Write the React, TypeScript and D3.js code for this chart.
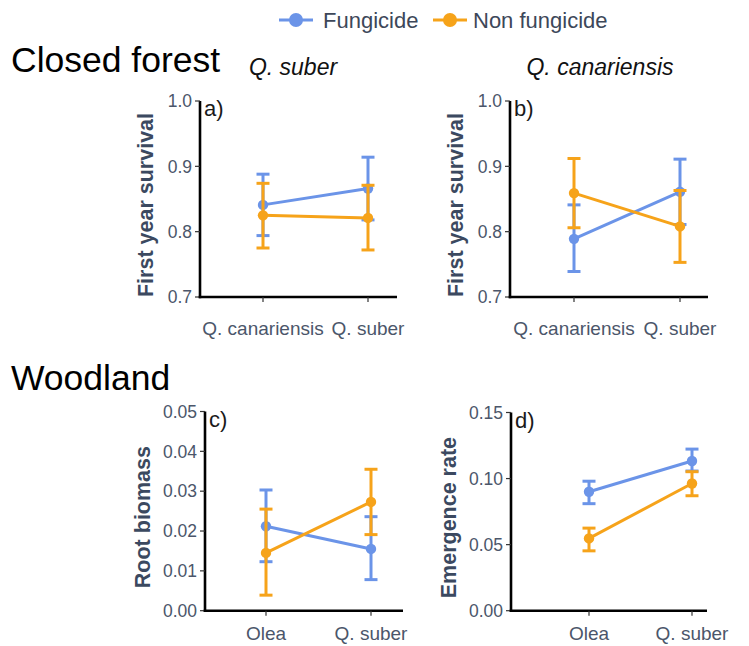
import React from "react";
import * as d3 from "d3";

// Treatment series
const seriesNames = ["Fungicide", "Non fungicide"];
const seriesColors = ["#6b94e8", "#f6a31a"];

// Categories on the x axis
const closedForestCats = ["Q. canariensis", "Q. suber"];
const woodlandCats = ["Olea", "Q. suber"];

// a) Q. suber, first year survival
const aFungMean = [0.841, 0.866];
const aFungLo = [0.794, 0.818];
const aFungHi = [0.888, 0.914];
const aNonMean = [0.825, 0.821];
const aNonLo = [0.775, 0.772];
const aNonHi = [0.874, 0.871];

// b) Q. canariensis, first year survival
const bFungMean = [0.789, 0.861];
const bFungLo = [0.739, 0.811];
const bFungHi = [0.841, 0.911];
const bNonMean = [0.859, 0.808];
const bNonLo = [0.806, 0.753];
const bNonHi = [0.912, 0.863];

// c) root biomass
const cFungMean = [0.0212, 0.0155];
const cFungLo = [0.0123, 0.0078];
const cFungHi = [0.0303, 0.0236];
const cNonMean = [0.0145, 0.0273];
const cNonLo = [0.0039, 0.0191];
const cNonHi = [0.0255, 0.0355];

// d) emergence rate
const dFungMean = [0.09, 0.1133];
const dFungLo = [0.081, 0.1057];
const dFungHi = [0.098, 0.1223];
const dNonMean = [0.0547, 0.0963];
const dNonLo = [0.0453, 0.087];
const dNonHi = [0.0625, 0.1052];

// Tick labels
const survivalTicks = ["0.7", "0.8", "0.9", "1.0"];
const biomassTicks = ["0.00", "0.01", "0.02", "0.03", "0.04", "0.05"];
const emergenceTicks = ["0.00", "0.05", "0.10", "0.15"];

const FONT = "'Liberation Sans', Arial, Helvetica, sans-serif";
const TICK_COLOR = "#4b566a";
const TITLE_COLOR = "#3b4960";

type Series = { mean: number[]; lo: number[]; hi: number[] };

type PanelProps = {
  tag: string;
  yTitle: string;
  cats: string[];
  ticks: string[];
  domain: [number, number];
  series: Series[];
  // layout
  axisX: number;
  axisTop: number;
  axisBottom: number;
  axisRight: number;
  catRange: [number, number];
  titleX: number;
  labelBaseline: number;
};

function Panel(p: PanelProps) {
  const y = d3.scaleLinear().domain(p.domain).range([p.axisBottom, p.axisTop]);
  const x = d3.scalePoint<string>().domain(p.cats).range(p.catRange);
  const line = d3
    .line<number>()
    .x((_, i) => x(p.cats[i]) as number)
    .y((v) => y(v));
  const capHalf = 6.5;
  return (
    <g>
      {/* y axis */}
      <line x1={p.axisX} x2={p.axisX} y1={p.axisTop} y2={p.axisBottom + 1.25} stroke="#000" strokeWidth={2.6} />
      {p.ticks.map((t) => (
        <g key={t}>
          <line x1={p.axisX - 5} x2={p.axisX} y1={y(+t)} y2={y(+t)} stroke="#333" strokeWidth={1.2} />
          <text
            x={p.axisX - 8}
            y={y(+t)}
            dy="0.36em"
            textAnchor="end"
            fontFamily={FONT}
            fontSize={17.5}
            fill={TICK_COLOR}
          >
            {t}
          </text>
        </g>
      ))}
      {/* x axis */}
      <line x1={p.axisX - 1.3} x2={p.axisRight} y1={p.axisBottom} y2={p.axisBottom} stroke="#000" strokeWidth={2.6} />
      {p.cats.map((c) => (
        <g key={c}>
          <line x1={x(c)} x2={x(c)} y1={p.axisBottom} y2={p.axisBottom + 5} stroke="#333" strokeWidth={1.2} />
          <text
            x={x(c)}
            y={p.labelBaseline}
            textAnchor="middle"
            fontFamily={FONT}
            fontSize={19}
            fill={TICK_COLOR}
          >
            {c}
          </text>
        </g>
      ))}
      {/* y axis title */}
      <text
        transform={`translate(${p.titleX},${(p.axisTop + p.axisBottom) / 2 + 6}) rotate(-90)`}
        textAnchor="middle"
        dy="0.36em"
        fontFamily={FONT}
        fontWeight="bold"
        fontSize={21.5}
        fill={TITLE_COLOR}
      >
        {p.yTitle}
      </text>
      {/* panel tag */}
      <text x={p.axisX + 4} y={p.axisTop + 15} fontFamily={FONT} fontSize={22} fill="#1a1a1a">
        {p.tag}
      </text>
      {/* series */}
      {p.series.map((s, si) => (
        <g key={si} stroke={seriesColors[si]} fill={seriesColors[si]}>
          <path d={line(s.mean) || ""} fill="none" strokeWidth={3} />
          {s.mean.map((m, i) => {
            const cx = x(p.cats[i]) as number;
            return (
              <g key={i}>
                <line x1={cx} x2={cx} y1={y(s.lo[i])} y2={y(s.hi[i])} strokeWidth={3} />
                <line x1={cx - capHalf} x2={cx + capHalf} y1={y(s.lo[i])} y2={y(s.lo[i])} strokeWidth={3} />
                <line x1={cx - capHalf} x2={cx + capHalf} y1={y(s.hi[i])} y2={y(s.hi[i])} strokeWidth={3} />
                <circle cx={cx} cy={y(m)} r={5.2} stroke="none" />
              </g>
            );
          })}
        </g>
      ))}
    </g>
  );
}

export default function App() {
  const legendItems = [
    { lineX: 279, textX: 323 },
    { lineX: 433, textX: 473 },
  ];
  return (
    <div style={{ position: "absolute", left: 0, top: 0 }}>
      <svg width={749} height={646} style={{ display: "block", background: "#fff" }}>
        {/* legend */}
        {seriesNames.map((n, i) => (
          <g key={n}>
            <line
              x1={legendItems[i].lineX}
              x2={legendItems[i].lineX + 34}
              y1={20}
              y2={20}
              stroke={seriesColors[i]}
              strokeWidth={3}
            />
            <circle cx={legendItems[i].lineX + 17} cy={20} r={7} fill={seriesColors[i]} />
            <text x={legendItems[i].textX} y={28} fontFamily={FONT} fontSize={22} fill="#3d4759">
              {n}
            </text>
          </g>
        ))}

        {/* section headings */}
        <text x={11} y={72} fontFamily={FONT} fontSize={35.5} fill="#000">
          Closed forest
        </text>
        <text x={11} y={390} fontFamily={FONT} fontSize={35.5} fill="#000">
          Woodland
        </text>
        <text x={293} y={75} textAnchor="middle" fontFamily={FONT} fontStyle="italic" fontSize={23} fill="#111">
          Q. suber
        </text>
        <text x={600} y={75} textAnchor="middle" fontFamily={FONT} fontStyle="italic" fontSize={23} fill="#111">
          Q. canariensis
        </text>

        <Panel
          tag="a)"
          yTitle="First year survival"
          cats={closedForestCats}
          ticks={survivalTicks}
          domain={[0.7, 1.0]}
          series={[
            { mean: aFungMean, lo: aFungLo, hi: aFungHi },
            { mean: aNonMean, lo: aNonLo, hi: aNonHi },
          ]}
          axisX={200}
          axisTop={101}
          axisBottom={297}
          axisRight={397}
          catRange={[263, 368]}
          titleX={145}
          labelBaseline={335}
        />
        <Panel
          tag="b)"
          yTitle="First year survival"
          cats={closedForestCats}
          ticks={survivalTicks}
          domain={[0.7, 1.0]}
          series={[
            { mean: bFungMean, lo: bFungLo, hi: bFungHi },
            { mean: bNonMean, lo: bNonLo, hi: bNonHi },
          ]}
          axisX={510}
          axisTop={101}
          axisBottom={297}
          axisRight={708}
          catRange={[574, 680]}
          titleX={455}
          labelBaseline={335}
        />
        <Panel
          tag="c)"
          yTitle="Root biomass"
          cats={woodlandCats}
          ticks={biomassTicks}
          domain={[0, 0.05]}
          series={[
            { mean: cFungMean, lo: cFungLo, hi: cFungHi },
            { mean: cNonMean, lo: cNonLo, hi: cNonHi },
          ]}
          axisX={205}
          axisTop={411.5}
          axisBottom={610.7}
          axisRight={403}
          catRange={[266, 371]}
          titleX={142}
          labelBaseline={640}
        />
        <Panel
          tag="d)"
          yTitle="Emergence rate"
          cats={woodlandCats}
          ticks={emergenceTicks}
          domain={[0, 0.15]}
          series={[
            { mean: dFungMean, lo: dFungLo, hi: dFungHi },
            { mean: dNonMean, lo: dNonLo, hi: dNonHi },
          ]}
          axisX={511}
          axisTop={412.5}
          axisBottom={610.7}
          axisRight={707}
          catRange={[589, 692]}
          titleX={448}
          labelBaseline={640}
        />
      </svg>
    </div>
  );
}
